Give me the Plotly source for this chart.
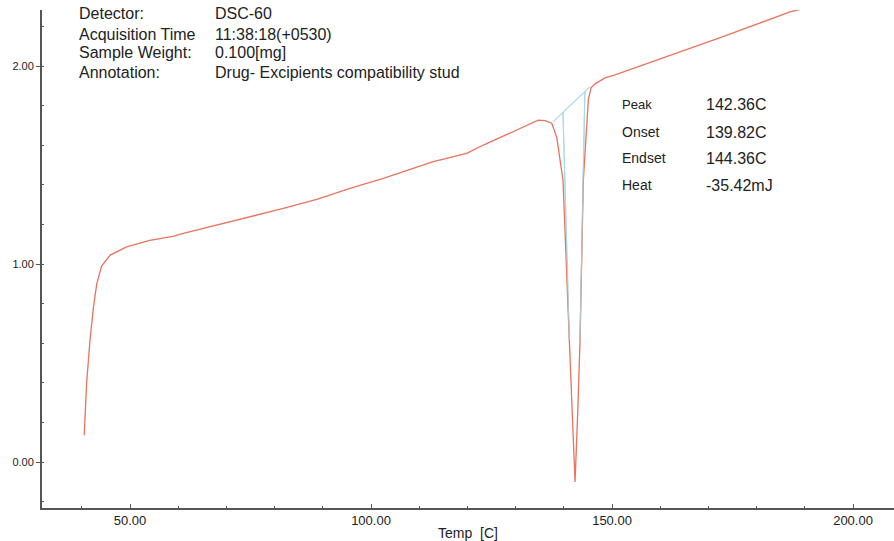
import plotly.graph_objects as go

# DSC curve (Temp [C], heat flow)
temp = [40.5, 41.0, 41.7, 42.4, 43.1, 44.1, 45.9, 49.3, 54.1, 58.9, 61.06, 67.99, 74.90,
        81.80, 88.73, 95.64, 102.55, 109.48, 112.92, 119.85, 123.30, 130.23, 134.38,
        134.71, 136.10, 137.49, 138.53, 139.21, 139.83, 141.14, 141.70, 142.33,
        142.88, 143.36, 144.05, 144.75, 145.09, 145.65, 146.47, 148.55, 150.62,
        159.27, 173.03, 186.93, 191.5]
signal = [0.136, 0.40, 0.616, 0.78, 0.90, 0.99, 1.045, 1.087, 1.12, 1.14, 1.155, 1.197, 1.242,
          1.281, 1.327, 1.382, 1.433, 1.491, 1.517, 1.559, 1.601, 1.677, 1.722,
          1.727, 1.724, 1.711, 1.64, 1.525, 1.424, 0.616, 0.247, -0.10,
          0.247, 0.616, 1.424, 1.69, 1.83, 1.89, 1.91, 1.94, 1.955,
          2.03, 2.148, 2.274, 2.30]

# analysis lines (baseline, onset tangent, endset tangent)
base_t = [137.8, 145.4]
base_v = [1.719, 1.895]
onset_t = [139.82, 141.14]
onset_v = [1.766, 0.616]
endset_t = [144.36, 143.36]
endset_v = [1.871, 0.616]

header_labels = ["Detector:", "Acquisition Time", "Sample Weight:", "Annotation:"]
header_values = ["DSC-60", "11:38:18(+0530)", "0.100[mg]", "Drug- Excipients compatibility stud"]
result_labels = ["Peak", "Onset", "Endset", "Heat"]
result_values = ["142.36C", "139.82C", "144.36C", "-35.42mJ"]

RED = "#e8735f"
BLUE = "#aad8e6"

fig = go.Figure()
for tt, vv in [(base_t, base_v), (onset_t, onset_v), (endset_t, endset_v)]:
    fig.add_trace(go.Scatter(x=tt, y=vv, mode="lines",
                             line=dict(color=BLUE, width=1.2), showlegend=False,
                             hoverinfo="skip"))
fig.add_trace(go.Scatter(x=temp, y=signal, mode="lines", line=dict(color=RED, width=1.3),
                         showlegend=False))
for tt, vv in [(onset_t, onset_v), (endset_t, endset_v)]:
    fig.add_trace(go.Scatter(x=tt, y=vv, mode="lines",
                             line=dict(color=BLUE, width=1.0), opacity=0.8,
                             showlegend=False, hoverinfo="skip"))

W, H = 894, 541
ML, MR, MT, MB = 42, 0, 10, 33
PW, PH = W - ML - MR, H - MT - MB


def px(xp):
    return (xp - ML) / PW


def py(yp):
    return (H - MB - yp) / PH


FONT = "Liberation Sans, Arial, sans-serif"
anns = []
hy = [14, 34, 53, 72]
for i in range(4):
    anns.append(dict(x=px(78), y=py(hy[i]), xref="paper", yref="paper", text=header_labels[i],
                     showarrow=False, xanchor="left", yanchor="middle", borderpad=0,
                     font=dict(family=FONT, size=16, color="#222")))
    anns.append(dict(x=px(214), y=py(hy[i]), xref="paper", yref="paper", text=header_values[i],
                     showarrow=False, xanchor="left", yanchor="middle", borderpad=0,
                     font=dict(family=FONT, size=16, color="#222")))
ry = [104, 132, 158, 185]
for i in range(4):
    anns.append(dict(x=px(620), y=py(ry[i]), xref="paper", yref="paper", text=result_labels[i],
                     showarrow=False, xanchor="left", yanchor="middle",
                     font=dict(family=FONT, size=14 if i else 13, color="#222")))
    anns.append(dict(x=px(704), y=py(ry[i]), xref="paper", yref="paper", text=result_values[i],
                     showarrow=False, xanchor="left", yanchor="middle",
                     font=dict(family=FONT, size=16, color="#222")))

fig.update_layout(
    width=W, height=H,
    margin=dict(l=ML, r=MR, t=MT, b=MB, pad=0, autoexpand=False),
    paper_bgcolor="white", plot_bgcolor="white",
    annotations=anns,
    xaxis=dict(range=[31.74, 208.5], tick0=0, dtick=50, tickformat=".2f",
               automargin=False,
               showgrid=False, zeroline=False, showline=True, linecolor="#555", linewidth=1.5,
               ticks="inside", ticklen=4, tickcolor="#555",
               minor=dict(dtick=10, ticks="inside", ticklen=2, tickcolor="#555"),
               tickfont=dict(family=FONT, size=13, color="#222"),
               title=dict(text="Temp  [C]", standoff=1,
                          font=dict(family=FONT, size=14, color="#222"))),
    yaxis=dict(range=[-0.232, 2.283], tick0=0, dtick=1, tickformat=".2f",
               automargin=False,
               showgrid=False, zeroline=False, showline=True, linecolor="#555", linewidth=2,
               ticks="outside", ticklen=4, tickcolor="#555",
               minor=dict(dtick=0.2, ticks="inside", ticklen=2, tickcolor="#555"),
               tickfont=dict(family=FONT, size=11, color="#222")),
)

fig.write_html("out.html", config={"displayModeBar": False},
               post_script="document.body.style.margin='0px';document.body.style.overflow='hidden';")
